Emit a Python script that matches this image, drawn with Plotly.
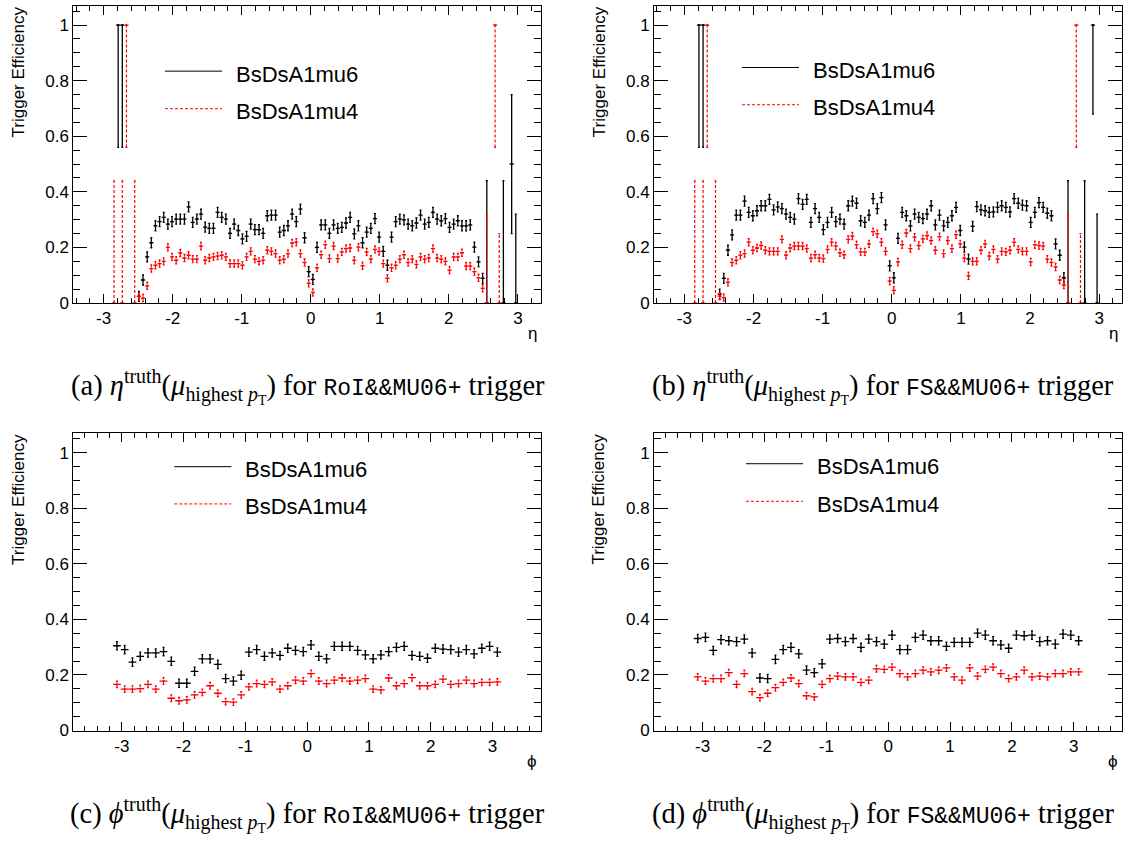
import math
import plotly.graph_objects as go

W, H = 1135, 841

# ---------------------------------------------------------------- eta data
# 100 bins of width 0.06 on [-3, 3]; the dense run covers bins 8..91
ETA_LO, ETA_BIN = -3.0, 0.06
ETA_DENSE_START = 8

MU6_ROI_ETA = [
    0.024, 0.083, 0.166, 0.217, 0.278, 0.293, 0.308, 0.284, 0.293, 0.302,
    0.302, 0.302, 0.346, 0.290, 0.302, 0.320, 0.273, 0.269, 0.269, 0.326,
    0.308, 0.302, 0.251, 0.284, 0.261, 0.231, 0.240, 0.284, 0.264, 0.264,
    0.251, 0.314, 0.316, 0.316, 0.255, 0.261, 0.278, 0.320, 0.293, 0.338,
    0.235, 0.113, 0.085, 0.200, 0.281, 0.281, 0.251, 0.281, 0.269, 0.272,
    0.288, 0.308, 0.249, 0.278, 0.217, 0.255, 0.269, 0.304, 0.237, 0.186,
    0.136, 0.237, 0.293, 0.302, 0.299, 0.284, 0.278, 0.288, 0.316, 0.284,
    0.290, 0.326, 0.302, 0.296, 0.304, 0.272, 0.284, 0.296, 0.278, 0.278,
    0.281, 0.201, 0.148, 0.089,
]
MU4_ROI_ETA = [
    0.024, 0.018, 0.062, 0.124, 0.136, 0.142, 0.150, 0.201, 0.166, 0.154,
    0.180, 0.162, 0.172, 0.158, 0.158, 0.205, 0.154, 0.162, 0.166, 0.169,
    0.172, 0.166, 0.142, 0.142, 0.142, 0.136, 0.166, 0.186, 0.158, 0.150,
    0.154, 0.190, 0.186, 0.178, 0.154, 0.158, 0.178, 0.216, 0.219, 0.178,
    0.146, 0.071, 0.038, 0.127, 0.174, 0.210, 0.160, 0.205, 0.160, 0.184,
    0.196, 0.198, 0.154, 0.201, 0.134, 0.184, 0.158, 0.193, 0.186, 0.142,
    0.089, 0.127, 0.136, 0.158, 0.174, 0.146, 0.158, 0.139, 0.166, 0.158,
    0.162, 0.196, 0.162, 0.158, 0.150, 0.118, 0.166, 0.166, 0.181, 0.133,
    0.133, 0.113, 0.091, 0.053,
]
MU6_FS_ETA = [
    0.032, 0.089, 0.190, 0.245, 0.316, 0.316, 0.367, 0.326, 0.314, 0.332,
    0.350, 0.350, 0.373, 0.335, 0.346, 0.340, 0.320, 0.308, 0.302, 0.376,
    0.355, 0.373, 0.290, 0.340, 0.308, 0.264, 0.290, 0.326, 0.293, 0.302,
    0.284, 0.350, 0.367, 0.359, 0.296, 0.290, 0.316, 0.376, 0.340, 0.379,
    0.281, 0.134, 0.091, 0.233, 0.326, 0.314, 0.278, 0.320, 0.308, 0.304,
    0.320, 0.350, 0.281, 0.316, 0.278, 0.290, 0.314, 0.344, 0.261, 0.201,
    0.158, 0.276, 0.347, 0.335, 0.332, 0.326, 0.328, 0.344, 0.350, 0.344,
    0.328, 0.376, 0.359, 0.352, 0.350, 0.290, 0.326, 0.361, 0.344, 0.323,
    0.314, 0.213, 0.172, 0.091,
]
MU4_FS_ETA = [
    0.025, 0.020, 0.075, 0.146, 0.154, 0.172, 0.178, 0.219, 0.190, 0.198,
    0.207, 0.190, 0.186, 0.186, 0.186, 0.229, 0.172, 0.198, 0.205, 0.205,
    0.205, 0.196, 0.162, 0.174, 0.162, 0.160, 0.193, 0.219, 0.205, 0.181,
    0.174, 0.229, 0.241, 0.210, 0.184, 0.184, 0.213, 0.257, 0.249, 0.219,
    0.186, 0.079, 0.046, 0.148, 0.210, 0.252, 0.196, 0.237, 0.207, 0.231,
    0.243, 0.225, 0.190, 0.239, 0.178, 0.225, 0.196, 0.246, 0.213, 0.162,
    0.098, 0.150, 0.150, 0.190, 0.213, 0.169, 0.193, 0.158, 0.186, 0.184,
    0.190, 0.219, 0.193, 0.186, 0.186, 0.148, 0.210, 0.207, 0.205, 0.158,
    0.146, 0.130, 0.083, 0.065,
]

# low-statistics bins near the acceptance edge: (bin, efficiency, err_low, err_high)
MU6_ROI_ETA_EDGE = [(3, 1.0, 0.44, 0.0), (4, 1.0, 0.44, 0.0), (92, 0.0, 0.0, 0.44),
                    (96, 0.0, 0.0, 0.44), (98, 0.5, 0.25, 0.25), (99, 0.0, 0.0, 0.32)]
MU4_ROI_ETA_EDGE = [(2, 0.0, 0.0, 0.44), (4, 0.0, 0.0, 0.44), (5, 1.0, 0.44, 0.0),
                    (7, 0.0, 0.0, 0.44), (92, 0.0, 0.0, 0.32), (94, 1.0, 0.44, 0.0),
                    (95, 0.0, 0.0, 0.25)]
MU6_FS_ETA_EDGE = [(3, 1.0, 0.44, 0.0), (4, 1.0, 0.44, 0.0), (92, 0.0, 0.0, 0.44),
                   (96, 0.0, 0.0, 0.44), (98, 1.0, 0.32, 0.0), (99, 0.0, 0.0, 0.32)]
MU4_FS_ETA_EDGE = [(2, 0.0, 0.0, 0.44), (4, 0.0, 0.0, 0.44), (5, 1.0, 0.44, 0.0),
                   (7, 0.0, 0.0, 0.44), (92, 0.0, 0.0, 0.32), (94, 1.0, 0.44, 0.0),
                   (95, 0.0, 0.0, 0.25)]

ERR_MU6_ETA = 0.018
ERR_MU4_ETA = 0.013

# ---------------------------------------------------------------- phi data
# 50 bins on [-pi, pi]
PHI_NBINS = 50
MU6_ROI_PHI = [
    0.305, 0.291, 0.246, 0.267, 0.279, 0.279, 0.284, 0.249, 0.170, 0.170,
    0.213, 0.258, 0.258, 0.238, 0.187, 0.178, 0.199, 0.282, 0.291, 0.267,
    0.279, 0.270, 0.296, 0.288, 0.284, 0.308, 0.267, 0.258, 0.303, 0.303,
    0.303, 0.288, 0.272, 0.258, 0.272, 0.284, 0.299, 0.303, 0.270, 0.267,
    0.260, 0.296, 0.293, 0.291, 0.282, 0.291, 0.276, 0.296, 0.303, 0.282,
]
MU4_ROI_PHI = [
    0.166, 0.149, 0.149, 0.151, 0.166, 0.149, 0.178, 0.116, 0.107, 0.110,
    0.128, 0.137, 0.161, 0.134, 0.104, 0.102, 0.128, 0.157, 0.169, 0.166,
    0.175, 0.149, 0.161, 0.181, 0.178, 0.205, 0.178, 0.169, 0.181, 0.189,
    0.178, 0.181, 0.187, 0.149, 0.146, 0.189, 0.161, 0.169, 0.190, 0.161,
    0.161, 0.166, 0.185, 0.166, 0.169, 0.181, 0.169, 0.173, 0.173, 0.175,
]
MU6_FS_PHI = [
    0.331, 0.335, 0.288, 0.327, 0.323, 0.320, 0.329, 0.279, 0.189, 0.187,
    0.256, 0.291, 0.299, 0.276, 0.217, 0.208, 0.240, 0.329, 0.331, 0.320,
    0.331, 0.299, 0.329, 0.320, 0.311, 0.343, 0.291, 0.291, 0.335, 0.343,
    0.323, 0.323, 0.303, 0.317, 0.317, 0.317, 0.350, 0.343, 0.323, 0.308,
    0.296, 0.343, 0.341, 0.343, 0.320, 0.323, 0.311, 0.347, 0.343, 0.323,
]
MU4_FS_PHI = [
    0.193, 0.178, 0.187, 0.187, 0.208, 0.166, 0.205, 0.140, 0.118, 0.134,
    0.154, 0.173, 0.189, 0.169, 0.125, 0.121, 0.166, 0.187, 0.196, 0.193,
    0.193, 0.173, 0.181, 0.222, 0.220, 0.228, 0.205, 0.193, 0.205, 0.217,
    0.211, 0.217, 0.225, 0.193, 0.181, 0.225, 0.196, 0.220, 0.228, 0.205,
    0.187, 0.193, 0.217, 0.193, 0.196, 0.193, 0.205, 0.205, 0.211, 0.211,
]
ERR_MU6_PHI = 0.015
ERR_MU4_PHI = 0.012

# ---------------------------------------------------------------- axes
ETA_RANGE = [-3.44, 3.335]
PHI_RANGE = [-3.785, 3.785]
Y_RANGE = [0, 1.07]
X_TICKS = [-3, -2, -1, 0, 1, 2, 3]
X_TICK_TEXT = ["-3", "-2", "-1", "0", "1", "2", "3"]
Y_TICKS = [0, 0.2, 0.4, 0.6, 0.8, 1.0]
Y_TICK_TEXT = ["0", "0.2", "0.4", "0.6", "0.8", "1"]

SERIES_NAMES = ["BsDsA1mu6", "BsDsA1mu4"]
CAPTIONS = [
    ("(a)", "η", "RoI&amp;&amp;MU06+"),
    ("(b)", "η", "FS&amp;&amp;MU06+"),
    ("(c)", "ϕ", "RoI&amp;&amp;MU06+"),
    ("(d)", "ϕ", "FS&amp;&amp;MU06+"),
]

BLACK = "#000000"
RED = "#ff0000"
SANS = "Liberation Sans"
SERIF = "Liberation Serif"
MONO = "Liberation Mono"

# frame boxes in pixels: left, right, top, bottom
FRAMES = [(73.3, 541.0, 5.7, 306.7), (654.0, 1122.3, 5.7, 306.7),
          (73.3, 541.0, 438.3, 739.3), (654.0, 1122.3, 438.3, 739.3)]


def px(xp):
    return xp / W


def py(yp):
    return 1 - yp / H


def eta_points(dense, edge, err):
    pts = {}
    for i, v in enumerate(dense):
        pts[ETA_DENSE_START + i] = (v, min(err, v), err)
    for b, v, lo, hi in edge:
        pts[b] = (v, lo, hi)
    bins = sorted(pts)
    x = [ETA_LO + (b + 0.5) * ETA_BIN for b in bins]
    y = [pts[b][0] for b in bins]
    lo = [pts[b][1] for b in bins]
    hi = [pts[b][2] for b in bins]
    return x, y, lo, hi


def phi_points(vals, err):
    w = 2 * math.pi / PHI_NBINS
    x = [-math.pi + (i + 0.5) * w for i in range(len(vals))]
    return x, list(vals), [err] * len(vals), [err] * len(vals)


fig = go.Figure()


def add_series(idx, pts, halfw, color, dashed, cap):
    x, y, lo, hi = pts
    xa = "x" if idx == 0 else f"x{idx + 1}"
    ya = "y" if idx == 0 else f"y{idx + 1}"
    ey = dict(type="data", array=hi, arrayminus=lo, width=1, thickness=1.3, color=color)
    fig.add_trace(go.Scatter(
        x=x, y=y, mode="markers", xaxis=xa, yaxis=ya,
        marker=dict(color=color, size=2),
        error_x=dict(type="constant", value=halfw, width=0, thickness=1.3, color=color),
        error_y=dict(visible=False) if dashed else ey,
        showlegend=False, hoverinfo="skip"))
    if dashed:
        vx, vy, cx, cy = [], [], [], []
        for xi, yi, l, h in zip(x, y, lo, hi):
            vx += [xi, xi, None]
            vy += [yi - l, yi + h, None]
            if h > 0:
                cx += [xi - cap, xi + cap, None]
                cy += [yi + h, yi + h, None]
            if l > 0:
                cx += [xi - cap, xi + cap, None]
                cy += [yi - l, yi - l, None]
        fig.add_trace(go.Scatter(x=vx, y=vy, mode="lines", xaxis=xa, yaxis=ya,
                                 line=dict(color=color, width=1.2, dash="3px,2px"),
                                 showlegend=False, hoverinfo="skip"))
        fig.add_trace(go.Scatter(x=cx, y=cy, mode="lines", xaxis=xa, yaxis=ya,
                                 line=dict(color=color, width=1.2),
                                 showlegend=False, hoverinfo="skip"))


panels = [
    (eta_points(MU6_ROI_ETA, MU6_ROI_ETA_EDGE, ERR_MU6_ETA),
     eta_points(MU4_ROI_ETA, MU4_ROI_ETA_EDGE, ERR_MU4_ETA), ETA_RANGE, ETA_BIN / 2),
    (eta_points(MU6_FS_ETA, MU6_FS_ETA_EDGE, ERR_MU6_ETA),
     eta_points(MU4_FS_ETA, MU4_FS_ETA_EDGE, ERR_MU4_ETA), ETA_RANGE, ETA_BIN / 2),
    (phi_points(MU6_ROI_PHI, ERR_MU6_PHI), phi_points(MU4_ROI_PHI, ERR_MU4_PHI),
     PHI_RANGE, math.pi / PHI_NBINS),
    (phi_points(MU6_FS_PHI, ERR_MU6_PHI), phi_points(MU4_FS_PHI, ERR_MU4_PHI),
     PHI_RANGE, math.pi / PHI_NBINS),
]

layout = dict(width=W, height=H, margin=dict(l=0, r=0, t=0, b=0),
              paper_bgcolor="white", plot_bgcolor="white", showlegend=False)

annotations = []
shapes = []

for i, (mu6, mu4, xr, halfw) in enumerate(panels):
    l, r, t, b = FRAMES[i]
    cap = 1.0 * (xr[1] - xr[0]) / (r - l)
    add_series(i, mu6, halfw, BLACK, False, cap)
    add_series(i, mu4, halfw, RED, True, cap)

    sfx = "" if i == 0 else str(i + 1)
    common = dict(showline=True, linecolor="black", linewidth=1, mirror="allticks",
                  ticks="inside", tickwidth=1, tickcolor="black",
                  showgrid=False, zeroline=False,
                  tickfont=dict(family=SANS, size=17, color="black"))
    layout["xaxis" + sfx] = dict(
        common, domain=[px(l), px(r)], range=xr, anchor="y" + sfx,
        tickmode="array", tickvals=X_TICKS, ticktext=X_TICK_TEXT, ticklen=9,
        minor=dict(ticks="inside", tickmode="linear", tick0=0, dtick=0.2,
                   ticklen=5, tickwidth=1, tickcolor="black", showgrid=False))
    layout["yaxis" + sfx] = dict(
        common, domain=[py(b), py(t)], range=Y_RANGE, anchor="x" + sfx,
        tickmode="array", tickvals=Y_TICKS, ticktext=Y_TICK_TEXT, ticklen=14,
        minor=dict(ticks="inside", tickmode="linear", tick0=0, dtick=0.05,
                   ticklen=7, tickwidth=1, tickcolor="black", showgrid=False))

    # y title
    annotations.append(dict(text="Trigger Efficiency", textangle=-90, showarrow=False,
                            xref="paper", yref="paper", x=px(l - 55), y=py(t - 1),
                            xanchor="center", yanchor="top",
                            font=dict(family=SANS, size=17, color="black")))
    # x title
    tag, var, trig = CAPTIONS[i]
    annotations.append(dict(text=var, showarrow=False, xref="paper", yref="paper",
                            x=px(r - 9), y=py(b + 31), xanchor="center", yanchor="middle",
                            font=dict(family=SANS, size=17, color="black")))

    # legend
    leg_x0 = [165, 742, 174.3, 746][i]
    leg_y = [(72, 110), (68.3, 106), (472.3, 510), (469.3, 507.3)][i]
    for j, (name, color, dash) in enumerate(zip(SERIES_NAMES, [BLACK, RED],
                                                 ["solid", "3px,2px"])):
        shapes.append(dict(type="line", xref="paper", yref="paper",
                           x0=px(leg_x0), x1=px(leg_x0 + 57),
                           y0=py(leg_y[j]), y1=py(leg_y[j]),
                           line=dict(color=color, width=1, dash=dash)))
        annotations.append(dict(text=name, showarrow=False, xref="paper", yref="paper",
                                x=px(leg_x0 + 69), y=py(leg_y[j] + 3),
                                xanchor="left", yanchor="middle",
                                font=dict(family=SANS, size=22, color="black")))

    # caption below each panel
    cap_text = (f"{tag} <i>{var}</i><sup>truth</sup>(<i>μ</i><sub>highest <i>p</i>"
                f"<sub>T</sub></sub>) for "
                f"<span style='font-family:{MONO};font-size:23px'>{trig}</span> trigger")
    cx = [307.5, 882.5, 307.5, 882.5][i]
    cy = [391, 391, 824, 824][i]
    annotations.append(dict(text=cap_text, showarrow=False, xref="paper", yref="paper",
                            x=px(cx), y=py(cy), xanchor="center", yanchor="middle",
                            font=dict(family=SERIF, size=28.5, color="black")))

layout["annotations"] = annotations
layout["shapes"] = shapes
fig.update_layout(**layout)
fig.write_html("out.html")
